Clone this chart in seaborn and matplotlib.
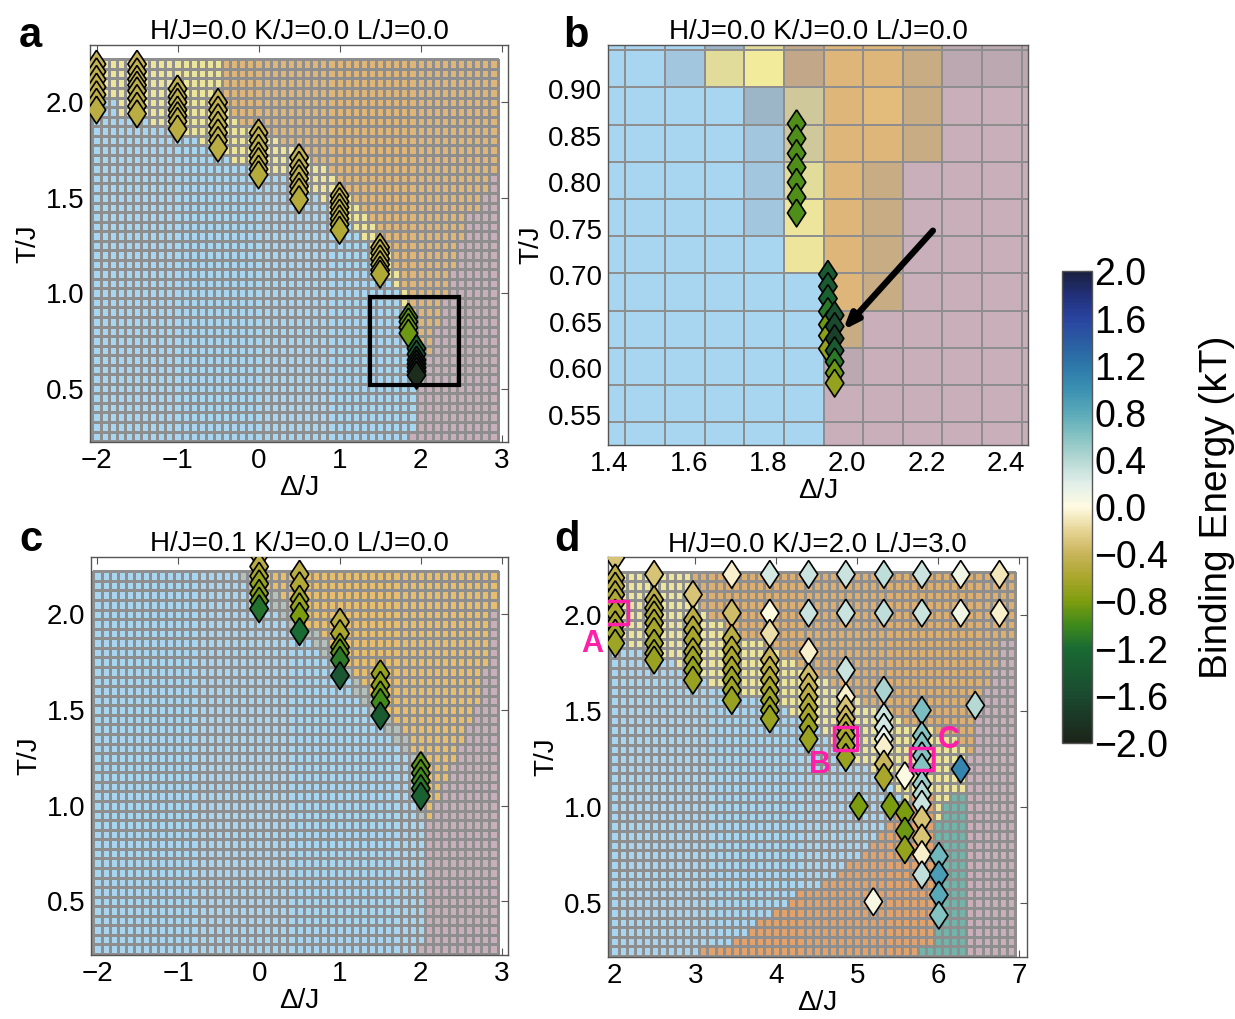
import numpy as np
import pandas as pd
import matplotlib
matplotlib.use("Agg")
import matplotlib.pyplot as plt
import seaborn as sns
from matplotlib.colors import LinearSegmentedColormap, ListedColormap, Normalize
from matplotlib.patches import Rectangle
import matplotlib.cm as cm

# ------------------------------------------------------------------ data
titles = ["H/J=0.0 K/J=0.0 L/J=0.0", "H/J=0.0 K/J=0.0 L/J=0.0",
          "H/J=0.1 K/J=0.0 L/J=0.0", "H/J=0.0 K/J=2.0 L/J=3.0"]
panel_letters = ["a", "b", "c", "d"]

# regular simulation grids (cell centres)
t_centers = np.round(np.arange(0.25, 2.21, 0.05), 3)          # 40 rows
ac_delta = np.round(np.arange(-2.0, 2.95, 0.1), 2)             # 50 cols
d_delta = np.round(np.arange(2.0, 6.95, 0.1), 2)               # 50 cols

# phase boundaries per column (T below which a phase holds)
a_blue_top = [1.94, 2.04, 2.04, 1.93, 1.93, 1.93, 1.91, 1.88, 1.88, 1.86,
              1.86, 1.84, 1.81, 1.79, 1.77, 1.74, 1.72, 1.70, 1.70, 1.68,
              1.66, 1.64, 1.62, 1.62, 1.60, 1.56, 1.54, 1.52, 1.47, 1.45,
              1.42, 1.38, 1.33, 1.28, 1.20, 1.13, 1.07, 1.02, 0.93, 0.70,
              0, 0, 0, 0, 0, 0, 0, 0, 0, 0]
a_band_top = [2.3] * 16 + [2.0, 1.95, 1.9, 1.88, 1.86, 1.84, 1.82, 1.80, 1.78, 1.74,
                           1.72, 1.70, 1.66, 1.62, 1.58, 1.55, 1.50, 1.45, 1.38, 1.30,
                           1.22, 1.13, 1.02, 0.86] + [0] * 10
a_mauve_top = [0] * 39 + [0.3, 0.64, 0.66, 0.82, 0.97, 1.12, 1.28, 1.42, 1.45, 1.55, 1.65]

c_blue_top = [2.3] * 17 + [2.25, 2.2, 2.15, 2.1, 2.06, 2.03, 2.0, 1.95, 1.9, 1.87,
                           1.83, 1.78, 1.75, 1.71, 1.66, 1.6, 1.55, 1.5, 1.44, 1.4,
                           1.35, 1.28, 1.2, 0.95] + [0] * 9
c_band_top = [2.3] * 17 + [2.3, 2.3, 2.25, 2.2, 2.15, 2.12, 2.08, 2.03, 1.98, 1.95,
                           1.92, 1.87, 1.83, 1.79, 1.74, 1.68, 1.63, 1.58, 1.52, 1.48,
                           1.43, 1.37, 1.3, 1.1] + [0] * 9
c_mauve_top = [0] * 40 + [0.3, 0.95, 1.05, 1.12, 1.25, 1.35, 1.45, 1.55, 1.75, 2.05]

d_blue_top = [1.87, 1.87, 1.85, 1.85, 1.82, 1.82, 1.80, 1.78, 1.74, 1.70,
              1.68, 1.66, 1.64, 1.62, 1.60, 1.59, 1.58, 1.57, 1.56, 1.55,
              1.54, 1.52, 1.49, 1.46, 1.43, 1.41, 1.38, 1.35, 1.31, 1.28,
              1.25, 1.21, 1.17, 1.15, 1.12, 1.08, 1.00, 0, 0, 0,
              0, 0, 0, 0, 0, 0, 0, 0, 0, 0]
d_band_top = [2.3] * 10 + [2.1, 2.05, 2.0, 1.98, 1.95, 1.92, 1.9, 1.88, 1.86, 1.85,
                           1.83, 1.8, 1.78, 1.75, 1.72, 1.7, 1.67, 1.64, 1.61, 1.58,
                           1.56, 1.54, 1.52, 1.5, 1.48, 1.46, 1.45, 1.45, 1.45, 1.42,
                           1.4, 1.38, 1.36, 1.34] + [0] * 6
d_orange_top = [0] * 11 + [0.26, 0.27, 0.28, 0.3, 0.32, 0.35, 0.38, 0.42, 0.45, 0.47,
                           0.5, 0.53, 0.56, 0.58, 0.6, 0.62, 0.65, 0.68, 0.72, 0.75,
                           0.8, 0.85, 0.9, 0.95, 1.0, 1.05, 1.1, 1.1, 1.1] + [0] * 10
d_teal_top = [0] * 38 + [0.3, 0.3, 0.95, 1.05, 1.1, 1.1] + [0] * 6
d_mauve_top = [0] * 44 + [1.3, 1.55, 1.65, 1.75, 1.87, 1.87]

# panel b: zoomed coarse grid, rows listed from top
b_delta_edges = [1.34, 1.44, 1.54, 1.64, 1.74, 1.84, 1.94, 2.04, 2.14, 2.24, 2.34, 2.44, 2.54]
b_t_edges = [0.982, 0.942, 0.902, 0.862, 0.822, 0.782, 0.742, 0.702, 0.662, 0.622, 0.582, 0.542, 0.502]
b_rows = ["BBBgkRTTDmmm",
          "BBbkLRTTDmmm",
          "BBBBgKTtDMMM",
          "BBBBbKTTDMMM",
          "BBBBbkTDMMMM",
          "BBBBbYTDMMMM",
          "BBBBBYTDMMMM",
          "BBBBBBTDMMMM",
          "BBBBBBDMMMMM",
          "BBBBBBmMMMMM",
          "BBBBBBMMMMMM",
          "BBBBBBMMMMMM"]

# diamonds: binding energies
a_mk_delta = [-2.0] * 7 + [-1.5] * 8 + [-1.0] * 7 + [-0.5] * 7 + [0.0] * 7 + [0.5] * 7 + [1.0] * 7 + [1.5] * 6 + [1.85] * 4 + [1.95] * 7
a_mk_t = [2.20, 2.16, 2.12, 2.08, 2.04, 2.00, 1.96,
          2.20, 2.16, 2.12, 2.09, 2.06, 2.02, 1.98, 1.94,
          2.07, 2.03, 2.00, 1.96, 1.93, 1.90, 1.86,
          2.00, 1.96, 1.92, 1.88, 1.84, 1.80, 1.76,
          1.84, 1.80, 1.76, 1.72, 1.69, 1.65, 1.62,
          1.71, 1.67, 1.63, 1.60, 1.56, 1.53, 1.49,
          1.51, 1.48, 1.45, 1.42, 1.39, 1.36, 1.33,
          1.24, 1.21, 1.18, 1.15, 1.12, 1.10,
          0.875, 0.85, 0.82, 0.79,
          0.71, 0.68, 0.65, 0.63, 0.61, 0.59, 0.57]
a_mk_e = [-0.42, -0.44, -0.44, -0.46, -0.46, -0.48, -0.5,
          -0.42, -0.44, -0.44, -0.46, -0.46, -0.48, -0.48, -0.5,
          -0.44, -0.44, -0.46, -0.46, -0.48, -0.48, -0.5,
          -0.44, -0.44, -0.46, -0.46, -0.48, -0.48, -0.5,
          -0.44, -0.44, -0.46, -0.48, -0.48, -0.5, -0.52,
          -0.44, -0.46, -0.46, -0.48, -0.48, -0.5, -0.52,
          -0.44, -0.46, -0.48, -0.48, -0.5, -0.52, -0.55,
          -0.48, -0.48, -0.5, -0.52, -0.52, -0.55,
          -0.9, -0.9, -0.85, -0.85,
          -1.3, -1.4, -1.75, -1.85, -1.9, -1.9, -1.9]

b_mk_delta = [1.872] * 7 + [1.951] * 7 + [1.968] * 7
b_mk_t = [0.863, 0.847, 0.831, 0.816, 0.800, 0.784, 0.767,
          0.701, 0.688, 0.675, 0.661, 0.647, 0.635, 0.621,
          0.657, 0.645, 0.632, 0.619, 0.607, 0.595, 0.584]
b_mk_e = [-0.95] * 7 + [-1.4, -1.4, -1.3, -1.1, -0.85, -0.75, -0.7] + \
         [-1.5, -1.6, -1.7, -1.4, -1.1, -0.85, -0.7]

c_mk_delta = [0.0] * 7 + [0.5] * 6 + [1.0] * 6 + [1.5] * 5 + [2.0] * 5
c_mk_t = [2.31, 2.25, 2.20, 2.16, 2.11, 2.07, 2.03,
          2.21, 2.15, 2.08, 2.04, 1.99, 1.91,
          1.96, 1.90, 1.83, 1.80, 1.76, 1.68,
          1.69, 1.63, 1.58, 1.54, 1.47,
          1.21, 1.17, 1.13, 1.09, 1.05]
c_mk_e = [-0.45, -0.5, -0.6, -0.7, -0.75, -0.85, -1.15,
          -0.5, -0.55, -0.65, -0.7, -0.8, -1.2,
          -0.5, -0.6, -0.8, -0.9, -1.1, -1.45,
          -0.7, -0.75, -0.85, -1.0, -1.4,
          -0.9, -0.95, -1.0, -1.1, -1.3]

d_mk_delta = ([2.01] * 9 + [2.49] * 9 + [2.97] * 8 + [3.45] * 9 + [3.92] * 10 + [4.40] * 10 +
              [4.86] * 10 + [5.02] + [5.33] * 9 + [5.41] + [5.59] * 4 + [5.80] * 14 +
              [6.01] * 4 + [6.28] * 3 + [6.46] + [6.76] * 2 + [5.20])
d_mk_t = [2.297, 2.192, 2.149, 2.105, 2.062, 2.009, 1.948, 1.904, 1.852,
          2.21, 2.079, 2.035, 2.0, 1.957, 1.913, 1.852, 1.799, 1.765,
          2.105, 1.974, 1.922, 1.869, 1.808, 1.765, 1.712, 1.66,
          2.21, 2.009, 1.878, 1.817, 1.765, 1.712, 1.66, 1.608, 1.555,
          2.21, 2.009, 1.904, 1.765, 1.712, 1.66, 1.608, 1.555, 1.503, 1.459,
          2.21, 2.009, 1.808, 1.677, 1.625, 1.573, 1.520, 1.468, 1.415, 1.354,
          2.21, 2.009, 1.712, 1.573, 1.512, 1.459, 1.415, 1.372, 1.319, 1.258,
          1.005,
          2.21, 2.009, 1.608, 1.468, 1.415, 1.354, 1.311, 1.224, 1.154,
          1.005,
          1.163, 0.971, 0.875, 0.779,
          2.21, 2.009, 1.503, 1.372, 1.319, 1.267, 1.206, 1.119, 1.066, 1.014, 0.935, 0.840, 0.753, 0.648,
          0.744, 0.648, 0.543, 0.438,
          2.21, 2.009, 1.198,
          1.529,
          2.21, 2.009,
          0.508]
d_mk_e = [-0.3, -0.5, -0.52, -0.55, -0.55, -0.6, -0.6, -0.65, -0.65,
          -0.3, -0.5, -0.55, -0.55, -0.6, -0.6, -0.65, -0.65, -0.68,
          -0.3, -0.5, -0.55, -0.6, -0.6, -0.65, -0.7, -0.68,
          -0.05, -0.35, -0.5, -0.55, -0.58, -0.6, -0.65, -0.65, -0.68,
          0.25, 0.0, -0.15, -0.42, -0.5, -0.55, -0.6, -0.65, -0.68, -0.68,
          0.3, 0.3, -0.05, -0.35, -0.42, -0.5, -0.55, -0.6, -0.68, -0.68,
          0.3, 0.3, 0.3, -0.05, -0.3, -0.4, -0.5, -0.58, -0.65, -0.68,
          -0.8,
          0.35, 0.35, 0.45, 0.3, 0.25, 0.15, -0.05, -0.4, -0.6,
          -0.8,
          0.02, -0.8, -0.85, -0.7,
          0.3, 0.3, 0.65, 0.6, 0.6, 0.6, 0.6, 0.5, 0.4, 0.3, -0.3, -0.3, -0.05, 0.35,
          0.7, 0.9, 0.8, 0.6,
          0.1, 0.1, 1.1,
          0.4,
          -0.1, -0.05,
          0.05]

d_box_delta = [2.02, 4.86, 5.80]
d_box_t = [2.01, 1.355, 1.25]
d_box_labels = ["A", "B", "C"]
d_label_pos = [(1.73, 1.85), (4.54, 1.22), (6.13, 1.35)]

zoom_box = (1.375, 0.52, 1.1, 0.458)           # rectangle in panel a
arrow_from, arrow_to = (2.216, 0.748), (1.989, 0.641)

cbar_ticks = [-2.0, -1.6, -1.2, -0.8, -0.4, 0.0, 0.4, 0.8, 1.2, 1.6, 2.0]

# ------------------------------------------------------------------ style
sns.set_style("ticks")
plt.rcParams['font.family'] = ['Liberation Sans', 'DejaVu Sans']
plt.rcParams['axes.edgecolor'] = '#555555'
plt.rcParams['text.color'] = 'black'
plt.rcParams['axes.labelcolor'] = 'black'
plt.rcParams['xtick.labelcolor'] = 'black'
plt.rcParams['ytick.labelcolor'] = 'black'

FS = 20

phase_colors = {
    'B': '#a8d5f0', 'b': '#a2c6de', 'g': '#9cb6c8', 'S': '#b4c0bb',
    'K': '#cfc89a', 'k': '#e2dc9a', 'Y': '#ede59c', 'L': '#f3eb9c',
    'R': '#c2a888', 'T': '#deb67a', 't': '#e3bb7a', 'U': '#dcae70',
    'C': '#e7bd6e', 'O': '#e1a26c', 'D': '#c8ac84', 'M': '#c8afba',
    'm': '#bba8b0', 'Q': '#72b4aa',
}
letters = list(phase_colors.keys())
phase_cmap = ListedColormap([phase_colors[k] for k in letters])

energy_cmap = LinearSegmentedColormap.from_list("be", [
    (0.00, '#1c2419'), (0.10, '#1b4a30'), (0.20, '#196a33'), (0.25, '#3f8a1c'),
    (0.30, '#7f9d0f'), (0.35, '#a9a62c'), (0.40, '#c8b45a'), (0.45, '#e6d494'),
    (0.50, '#fffbe1'), (0.55, '#e2efea'), (0.60, '#b6d9d4'), (0.65, '#86c3c3'),
    (0.70, '#5aaab9'), (0.75, '#3b91b2'), (0.80, '#2d78a9'), (0.85, '#2a5ea2'),
    (0.90, '#2a44a0'), (0.95, '#22307a'), (1.00, '#1a2040')])
e_norm = Normalize(-2.0, 2.0)

diamond = [(0, 1), (0.66, 0), (0, -1), (-0.66, 0), (0, 1)]


def build_phase(tc, blue, band, mauve, band_l, tan_l, orange=None, teal=None):
    grid = np.zeros((len(tc), len(blue)), dtype=int)
    for j in range(len(blue)):
        for i, t in enumerate(tc):
            if t < mauve[j]:
                c = 'M'
            elif teal is not None and t < teal[j]:
                c = 'Q'
            elif orange is not None and t < orange[j]:
                c = 'O'
            elif t < blue[j]:
                c = 'B'
            elif t < band[j]:
                c = band_l
            else:
                c = tan_l
            grid[i, j] = letters.index(c)
    return grid


def edges(c, step):
    c = np.asarray(c, float)
    return np.append(c - step / 2, c[-1] + step / 2)


def draw_phase(ax, xe, ye, grid, lw=0.85):
    ax.pcolormesh(xe, ye, grid, cmap=phase_cmap, vmin=-0.5, vmax=len(letters) - 0.5,
                  edgecolors='#8e8e8e', linewidth=lw, zorder=1)


def draw_markers(ax, dx, t, e):
    df = pd.DataFrame({"delta": dx, "T": t, "E": e})
    sns.scatterplot(data=df, x="delta", y="T", hue="E", palette=energy_cmap,
                    hue_norm=e_norm, marker=diamond, s=400, edgecolor='black',
                    linewidth=1.2, legend=False, ax=ax, zorder=3)


def style_axes(ax, title, xlim, ylim, xticks, yticks, yfmt="{:.1f}"):
    ax.set_xlim(*xlim)
    ax.set_ylim(*ylim)
    ax.set_xticks(xticks)
    ax.set_yticks(yticks)
    ax.set_yticklabels([yfmt.format(v) for v in yticks])
    ax.tick_params(direction='in', top=True, right=True, length=5, width=0.8,
                   color='#555555', labelcolor='black', labelsize=FS, pad=4)
    ax.set_title(title, fontsize=FS, pad=4, color='black')
    ax.set_xlabel("Δ/J", fontsize=FS, labelpad=1, color='black')
    ax.set_ylabel("T/J", fontsize=FS, labelpad=3, color='black')
    for s in ax.spines.values():
        s.set_linewidth(1.0)


fig = plt.figure(figsize=(12.35, 10.19), dpi=100)
ax_a = fig.add_axes([0.0729, 0.5662, 0.3385, 0.3896])
ax_b = fig.add_axes([0.4923, 0.5633, 0.3401, 0.3925])
ax_c = fig.add_axes([0.0737, 0.0628, 0.3377, 0.3906])
ax_d = fig.add_axes([0.4923, 0.0608, 0.3393, 0.3925])
cax = fig.add_axes([0.8597, 0.2709, 0.0243, 0.4628])

te = edges(t_centers, 0.05)

# panel a
draw_phase(ax_a, edges(ac_delta, 0.1), te,
           build_phase(t_centers, a_blue_top, a_band_top, a_mauve_top, 'Y', 'T'))
draw_markers(ax_a, a_mk_delta, a_mk_t, a_mk_e)
ax_a.add_patch(Rectangle(zoom_box[:2], zoom_box[2], zoom_box[3], fill=False,
                         edgecolor='black', linewidth=3, zorder=4))
style_axes(ax_a, titles[0], (-2.08, 3.08), (0.22, 2.30), [-2, -1, 0, 1, 2, 3],
           [0.5, 1.0, 1.5, 2.0])
ax_a.set_xticklabels(["−2", "−1", "0", "1", "2", "3"])

# panel b
b_grid = np.array([[letters.index(ch) for ch in row] for row in b_rows[::-1]])
draw_phase(ax_b, b_delta_edges, b_t_edges[::-1], b_grid, lw=1.3)
draw_markers(ax_b, b_mk_delta, b_mk_t, b_mk_e)
ax_b.annotate("", xy=arrow_to, xytext=arrow_from,
              arrowprops=dict(arrowstyle='-|>,head_length=0.9,head_width=0.35',
                              lw=4.5, color='black', shrinkA=0, shrinkB=0), zorder=5)
style_axes(ax_b, titles[1], (1.396, 2.456), (0.5175, 0.9476),
           [1.4, 1.6, 1.8, 2.0, 2.2, 2.4],
           [0.55, 0.60, 0.65, 0.70, 0.75, 0.80, 0.85, 0.90], yfmt="{:.2f}")
ax_b.set_xticklabels(["1.4", "1.6", "1.8", "2.0", "2.2", "2.4"])

# panel c
draw_phase(ax_c, edges(ac_delta, 0.1), te,
           build_phase(t_centers, c_blue_top, c_band_top, c_mauve_top, 'S', 'C'))
draw_markers(ax_c, c_mk_delta, c_mk_t, c_mk_e)
style_axes(ax_c, titles[2], (-2.08, 3.08), (0.22, 2.30), [-2, -1, 0, 1, 2, 3],
           [0.5, 1.0, 1.5, 2.0])
ax_c.set_xticklabels(["−2", "−1", "0", "1", "2", "3"])

# panel d
draw_phase(ax_d, edges(d_delta, 0.1), te,
           build_phase(t_centers, d_blue_top, d_band_top, d_mauve_top, 'Y', 'U',
                       orange=d_orange_top, teal=d_teal_top))
draw_markers(ax_d, d_mk_delta, d_mk_t, d_mk_e)
ax_d.scatter(d_box_delta, d_box_t, marker='s', s=16.5 ** 2, facecolors='none',
             edgecolors='#ff1fa8', linewidths=2.5, zorder=4)
for lab, (lx, ly) in zip(d_box_labels, d_label_pos):
    ax_d.text(lx, ly, lab, color='#ff1fa8', fontsize=22, fontweight='bold',
              ha='center', va='center', clip_on=False, zorder=6)
style_axes(ax_d, titles[3], (1.92, 7.1), (0.22, 2.30), [2, 3, 4, 5, 6, 7],
           [0.5, 1.0, 1.5, 2.0])

# panel letters
for lab, (fx, fy) in zip(panel_letters, [(0.025, 0.965), (0.466, 0.965),
                                          (0.025, 0.47), (0.459, 0.47)]):
    fig.text(fx, fy, lab, fontsize=30, fontweight='bold', ha='center', va='center',
             color='black')

# colorbar
sm = cm.ScalarMappable(norm=e_norm, cmap=energy_cmap)
cb = fig.colorbar(sm, cax=cax, ticks=cbar_ticks)
cb.ax.set_yticklabels([f"{v:.1f}".replace("-", "−") for v in cbar_ticks])
cb.ax.tick_params(labelsize=27, direction='in', length=6, pad=2, labelcolor='black')
cb.set_label("Binding Energy (kT)", fontsize=28, labelpad=22, color='black')
cb.outline.set_linewidth(1.0)

fig.savefig("out.png", dpi=100)
